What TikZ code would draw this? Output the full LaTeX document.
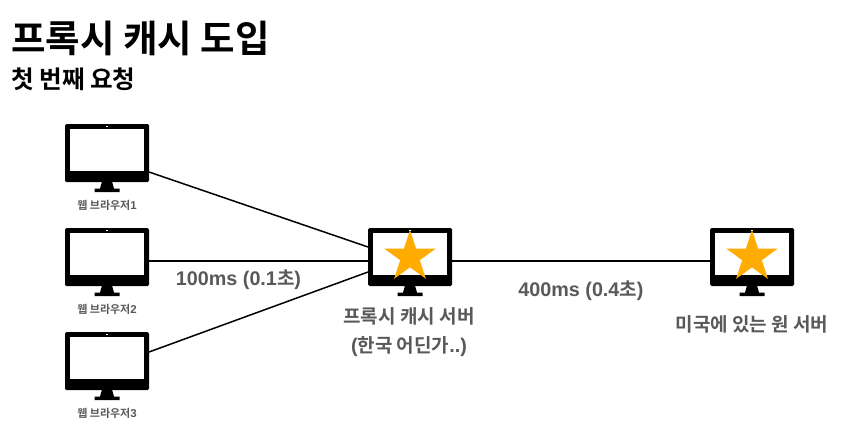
\documentclass[tikz,border=0pt]{standalone}
\usepackage{fontspec}
\setmainfont{Noto Sans CJK KR}[BoldFont={* Bold}]
\newfontfamily\latinb{Liberation Sans}[BoldFont={Liberation Sans Bold},Scale=1.04]
\newcommand{\lat}[1]{{\latinb\bfseries #1}}
\usetikzlibrary{shapes.geometric}
\definecolor{labelgray}{HTML}{595959}
\definecolor{stargold}{HTML}{FFAB00}
\tikzset{
  x=1pt,y=-1pt,
  frame/.style={draw=none,fill=black,rounded corners=1.5pt,minimum width=84pt,minimum height=58pt,inner sep=0pt,outer sep=0pt},
  link/.style={draw=black,line width=1.5pt},
  cap1/.style={font=\bfseries\fontsize{11}{13}\selectfont,text=labelgray,inner sep=0pt},
  cap2/.style={font=\bfseries\fontsize{19}{29}\selectfont,text=labelgray,inner sep=0pt,align=center},
  goldstar/.style={star,star points=5,star point ratio=2.618,fill=stargold,draw=none,minimum size=54pt,inner sep=0pt},
  monitor/.pic={
    \fill[white] (-37.2,-24) rectangle (37.2,18);
    \fill[white] (-0.9,-27) rectangle (0.9,-25.6);
    \fill[black] (-5,28.5) -- (5,28.5) -- (7,35.5) -- (12.5,35.5) -- (12.5,39) -- (-12.5,39) -- (-12.5,35.5) -- (-7,35.5) -- cycle;
  }
}
\begin{document}
\begin{tikzpicture}
\useasboundingbox (0,0) rectangle (841,431);
\fill[white] (0,0) rectangle (841,431);
\node[frame] (b1) at (107,153) {};
\node[frame] (b2) at (107,257) {};
\node[frame] (b3) at (107,361) {};
\node[frame] (p) at (410,257) {};
\node[frame] (o) at (752,257) {};
\foreach \m in {b1,b2,b3,p,o} {\pic at (\m.center) {monitor};}
\coordinate (b1r) at ([yshift=-19pt]b1.east);
\coordinate (b2r) at ([yshift=-4pt]b2.east);
\coordinate (b3r) at ([yshift=9pt]b3.east);
\coordinate (p1) at ([yshift=10pt]p.west);
\coordinate (p2) at ([yshift=-4pt]p.west);
\coordinate (p3) at ([yshift=-15pt]p.west);
\coordinate (pr) at ([yshift=-4pt]p.east);
\coordinate (or) at ([yshift=-4pt]o.west);
\draw[link] (b1r) -- (p1);
\draw[link] (b2r) -- (p2);
\draw[link] (b3r) -- (p3);
\draw[link] (pr) -- (or);
\node[goldstar] (s1) at (410,257) {};
\node[goldstar] (s2) at (752,257) {};
\node[anchor=west,inner sep=0pt,font=\bfseries\fontsize{37.5}{42}\selectfont,text=black] (t1) at (11,38) {프록시 캐시 도입};
\node[anchor=west,inner sep=0pt,font=\bfseries\fontsize{24.6}{28}\selectfont,text=black] (t2) at (11,79) {첫 번째 요청};
\node[cap1] (c1) at (107,205) {웹 브라우저\lat{1}};
\node[cap1] (c2) at (107,309) {웹 브라우저\lat{2}};
\node[cap1] (c3) at (107,413) {웹 브라우저\lat{3}};
\node[cap2] (c4) at (409,332) {프록시 캐시 서버\\\lat{(}한국 어딘가\lat{..)}};
\node[cap2] (c5) at (752,324) {미국에 있는 원 서버};
\node[cap2] (l1) at (238.5,279.5) {\lat{100ms (0.1}초\lat{)}};
\node[cap2] (l2) at (581,290.5) {\lat{400ms (0.4}초\lat{)}};
\end{tikzpicture}
\end{document}
